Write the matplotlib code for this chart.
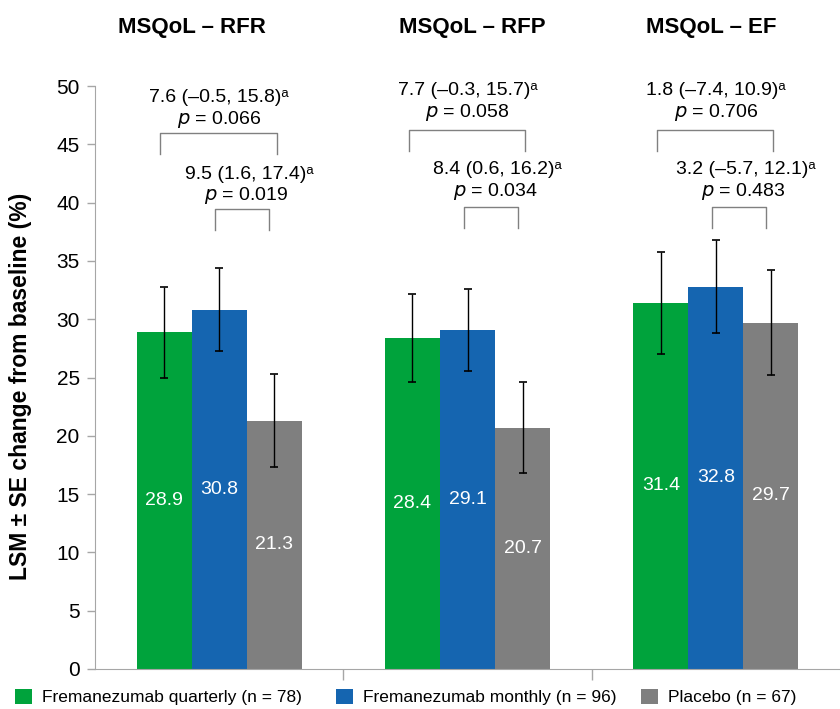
import matplotlib.pyplot as plt
import numpy as np

# data
domains = ['MSQoL – RFR', 'MSQoL – RFP', 'MSQoL – EF']
series = ['Fremanezumab quarterly (n = 78)', 'Fremanezumab monthly (n = 96)', 'Placebo (n = 67)']
quarterly = [28.9, 28.4, 31.4]
monthly = [30.8, 29.1, 32.8]
placebo = [21.3, 20.7, 29.7]
quarterly_se = [3.9, 3.8, 4.35]
monthly_se = [3.55, 3.5, 4.0]
placebo_se = [4.0, 3.9, 4.5]
# differences vs placebo: quarterly, monthly
diff_q = ['7.6 (–0.5, 15.8)', '7.7 (–0.3, 15.7)', '1.8 (–7.4, 10.9)']
p_q = ['0.066', '0.058', '0.706']
diff_m = ['9.5 (1.6, 17.4)', '8.4 (0.6, 16.2)', '3.2 (–5.7, 12.1)']
p_m = ['0.019', '0.034', '0.483']

colors = ['#00A33C', '#1565B0', '#7F7F7F']
axcol = '#A6A6A6'
plt.rcParams['font.family'] = ['Liberation Sans', 'DejaVu Sans']

fig = plt.figure(figsize=(8.4, 7.09), dpi=100)
ax = fig.add_axes([95/840, 40/709, 745/840, 583/709])

x = np.arange(len(domains))
w = 0.2215
vals = [quarterly, monthly, placebo]
ses = [quarterly_se, monthly_se, placebo_se]
bars = []
for i in range(3):
    xs = x + (i - 1) * w
    b = ax.bar(xs, vals[i], w, color=colors[i], label=series[i], zorder=2)
    bars.append(b)
    ax.errorbar(xs, vals[i], yerr=ses[i], fmt='none', ecolor='black',
                elinewidth=1, capsize=2.6, capthick=1.2, zorder=3)
    for xx, v in zip(xs, vals[i]):
        ax.text(xx, v / 2, f'{v:.1f}', ha='center', va='center',
                color='white', fontsize=14, zorder=4)


def bracket(x1, x2, ytop, h=1.8):
    ax.plot([x1, x1, x2, x2], [ytop - h, ytop, ytop, ytop - h],
            color='#808080', lw=1, zorder=3, clip_on=False)


def label(xc, y, s, sup=False):
    txt = s + 'ᵃ' if sup else s
    ax.text(xc, y, txt, ha='center', va='center', fontsize=14,
            family=['Liberation Sans', 'DejaVu Sans'], clip_on=False)


for g in range(3):
    xg, xm, xp = x[g] - w, x[g], x[g] + w
    first = g == 0
    # upper bracket: quarterly vs placebo
    up = 46.0 if first else 46.25
    bracket(xg - 0.015, xp + 0.01, up)
    cx = (xg + xp) / 2
    label(cx, 49.05 if first else 49.65, diff_q[g], sup=True)
    ax.text(cx, 47.1 if first else 47.75, '$\\it{p}$ = ' + p_q[g],
            ha='center', va='center', fontsize=14, clip_on=False)
    # lower bracket: monthly vs placebo
    lo = 39.45 if first else 39.6
    bracket(xm - 0.015, xp - 0.02, lo)
    cx2 = (xm + xp) / 2
    label(cx2 + 0.01, 42.4 if first else 42.8, diff_m[g], sup=True)
    ax.text(cx2, 40.6 if first else 40.95, '$\\it{p}$ = ' + p_m[g],
            ha='center', va='center', fontsize=14, clip_on=False)

title_x = [-0.11, 1.02, 1.98]
for tx, name in zip(title_x, domains):
    ax.text(tx, 55.0, name, ha='center', va='center', fontsize=16,
            fontweight='bold', clip_on=False)

ax.set_xlim(-0.5, 2.5)
ax.set_ylim(0, 50)
ax.set_yticks(np.arange(0, 51, 5))
ax.set_xticks([0.5, 1.5])
ax.set_xticklabels([])
ax.tick_params(axis='y', colors=axcol, labelcolor='black', labelsize=15,
               length=6, width=1, pad=5)
ax.tick_params(axis='x', colors=axcol, length=8, width=1)
for s in ['top', 'right']:
    ax.spines[s].set_visible(False)
for s in ['left', 'bottom']:
    ax.spines[s].set_color(axcol)
ax.set_ylabel('LSM ± SE change from baseline (%)', fontsize=16.5,
              fontweight='bold')
ax.yaxis.set_label_coords(-0.0846, 0.485)

# legend items placed one by one
leg_x = [15, 336, 641]
for b, lab, lx in zip(bars, series, leg_x):
    leg = fig.legend([b], [lab], loc='center left',
                     bbox_to_anchor=(lx / 840, 1 - 697 / 709),
                     frameon=False, handlelength=1.0, handleheight=1.0,
                     handletextpad=0.55, borderpad=0, borderaxespad=0,
                     prop={'size': 12.5})

fig.savefig('out.png', dpi=100)
